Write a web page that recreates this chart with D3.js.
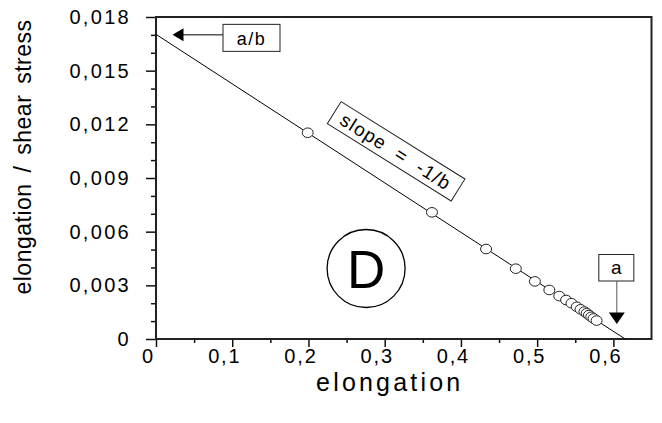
<!DOCTYPE html>
<html>
<head>
<meta charset="utf-8">
<script src="https://cdn.jsdelivr.net/npm/d3@7"></script>
<style>
  body { margin: 0; background: #fff; }
  svg { display: block; }
  text { font-family: "Liberation Sans", Arial, sans-serif; fill: #000; }
</style>
</head>
<body>
<svg id="chart" width="662" height="423"></svg>
<script>
// measured points (elongation vs elongation / shear stress)
var elongation = [0.199, 0.362, 0.433, 0.472, 0.497, 0.516, 0.529, 0.538, 0.545, 0.552, 0.557, 0.562, 0.565, 0.568, 0.571, 0.574, 0.578];
var ratio = [0.01153, 0.00708, 0.00503, 0.00393, 0.00322, 0.00274, 0.00240, 0.00218, 0.00200, 0.00180, 0.00166, 0.00153, 0.00144, 0.00134, 0.00124, 0.00115, 0.00103];

// fitted line: intercepts
var interceptA = 0.6155;    // x intercept (a)
var interceptAB = 0.01703;  // y intercept (a/b)

var xTicks = [0, 0.1, 0.2, 0.3, 0.4, 0.5, 0.6];
var xTickLabels = ["0", "0,1", "0,2", "0,3", "0,4", "0,5", "0,6"];
var yTicks = [0, 0.003, 0.006, 0.009, 0.012, 0.015, 0.018];
var yTickLabels = ["0", "0,003", "0,006", "0,009", "0,012", "0,015", "0,018"];
var xMinor = [0.05, 0.15, 0.25, 0.35, 0.45, 0.55];
var yMinor = [0.001, 0.002, 0.004, 0.005, 0.007, 0.008, 0.010, 0.011, 0.013, 0.014, 0.016, 0.017];

var svg = d3.select("#chart");
// plot area (window.top is reserved, so keep these in an object)
var plot = {left: 156, right: 651.5, top: 17, bottom: 339};

var x = d3.scaleLinear().domain([0, 0.65]).range([plot.left, plot.right]);
var y = d3.scaleLinear().domain([0, 0.018]).range([plot.bottom, plot.top]);

// minor ticks
svg.append("g")
    .attr("transform", "translate(" + plot.left + ",0)")
    .call(d3.axisLeft(y).tickValues(yMinor).tickSize(5).tickFormat(""))
    .call(function(g){ g.select(".domain").remove(); });
svg.append("g")
    .attr("transform", "translate(0," + plot.bottom + ")")
    .call(d3.axisBottom(x).tickValues(xMinor).tickSize(4).tickFormat(""))
    .call(function(g){ g.select(".domain").remove(); });

// major ticks + labels
var yAxis = svg.append("g")
    .attr("transform", "translate(" + plot.left + ",0)")
    .call(d3.axisLeft(y).tickValues(yTicks).tickSize(10).tickPadding(15)
        .tickFormat(function(d, i){ return yTickLabels[i]; }));
yAxis.select(".domain").remove();
yAxis.selectAll("text").attr("font-size", 20).attr("letter-spacing", 2.3)
    .attr("font-family", "Liberation Sans, Arial, sans-serif");

var xAxis = svg.append("g")
    .attr("transform", "translate(0," + plot.bottom + ")")
    .call(d3.axisBottom(x).tickValues(xTicks).tickSize(8).tickPadding(2)
        .tickFormat(function(d, i){ return xTickLabels[i]; }));
xAxis.select(".domain").remove();
xAxis.selectAll("text").attr("font-size", 20).attr("letter-spacing", 1.8).attr("dx", -8)
    .attr("font-family", "Liberation Sans, Arial, sans-serif");

svg.selectAll(".tick line").attr("stroke", "#111").attr("stroke-width", 1.5);

// frame
svg.append("rect")
    .attr("x", plot.left).attr("y", plot.top)
    .attr("width", plot.right - plot.left).attr("height", plot.bottom - plot.top)
    .attr("fill", "none").attr("stroke", "#222").attr("stroke-width", 2);

// regression line
svg.append("line")
    .attr("x1", x(0)).attr("y1", y(interceptAB))
    .attr("x2", x(interceptA)).attr("y2", y(0))
    .attr("stroke", "#000").attr("stroke-width", 1);

// points
svg.append("g").selectAll("ellipse")
    .data(elongation)
    .enter().append("ellipse")
    .attr("cx", function(d){ return x(d); })
    .attr("cy", function(d, i){ return y(ratio[i]); })
    .attr("rx", 5.5).attr("ry", 4.8)
    .attr("fill", "#fff").attr("stroke", "#222").attr("stroke-width", 1);

// a/b annotation
var abY = y(interceptAB);
svg.append("line")
    .attr("x1", x(0) + 26).attr("y1", abY + 0.5)
    .attr("x2", x(0) + 67).attr("y2", abY + 0.5)
    .attr("stroke", "#000").attr("stroke-width", 1);
svg.append("path")
    .attr("d", "M" + (x(0) + 16.5) + "," + (abY + 0.5) + "L" + (x(0) + 27.5) + "," + (abY - 6) + "L" + (x(0) + 27.5) + "," + (abY + 7) + "Z")
    .attr("fill", "#000");
svg.append("rect")
    .attr("x", x(0) + 67).attr("y", abY - 10)
    .attr("width", 57).attr("height", 27)
    .attr("fill", "#fff").attr("stroke", "#222").attr("stroke-width", 1);
svg.append("text")
    .attr("x", x(0) + 95.5).attr("y", abY + 10.5)
    .attr("text-anchor", "middle").attr("font-size", 18).attr("letter-spacing", 1.5)
    .text("a/b");

// a annotation
var aX = x(0.6045);
svg.append("rect")
    .attr("x", aX - 18).attr("y", 254.5)
    .attr("width", 35).attr("height", 26.5)
    .attr("fill", "#fff").attr("stroke", "#222").attr("stroke-width", 1);
svg.append("text")
    .attr("x", aX - 0.5).attr("y", 274)
    .attr("text-anchor", "middle").attr("font-size", 19)
    .text("a");
svg.append("line")
    .attr("x1", aX).attr("y1", 281)
    .attr("x2", aX).attr("y2", 313)
    .attr("stroke", "#555").attr("stroke-width", 1);
svg.append("path")
    .attr("d", "M" + (aX - 8) + ",312.5L" + (aX + 8) + ",312.5L" + aX + "," + y(0.00084) + "Z")
    .attr("fill", "#000");

// slope label
var slopeG = svg.append("g")
    .attr("transform", "translate(" + x(0.315) + "," + y(0.01049) + ") rotate(32)");
slopeG.append("rect")
    .attr("x", -73).attr("y", -13).attr("width", 146).attr("height", 26)
    .attr("fill", "#fff").attr("stroke", "#222").attr("stroke-width", 1);
slopeG.append("text")
    .attr("x", 0).attr("y", 7)
    .attr("text-anchor", "middle").attr("font-size", 19).attr("letter-spacing", 1.2)
    .style("white-space", "pre")
    .text("slope  =  -1/b");

// D mark
svg.append("circle")
    .attr("cx", x(0.2756)).attr("cy", y(0.00394)).attr("r", 39)
    .attr("fill", "none").attr("stroke", "#000").attr("stroke-width", 1.3);
svg.append("text")
    .attr("x", x(0.2756)).attr("y", y(0.00394) + 19)
    .attr("text-anchor", "middle").attr("font-size", 53)
    .text("D");

// axis titles
svg.append("text")
    .attr("x", (plot.left + plot.right) / 2 - 14).attr("y", 391)
    .attr("text-anchor", "middle").attr("font-size", 25).attr("letter-spacing", 3.2)
    .text("elongation");
svg.append("text")
    .attr("transform", "translate(31,157) rotate(-90)")
    .attr("text-anchor", "middle").attr("font-size", 23).attr("letter-spacing", 0.5)
    .attr("word-spacing", 4)
    .text("elongation / shear stress");
</script>
</body>
</html>
